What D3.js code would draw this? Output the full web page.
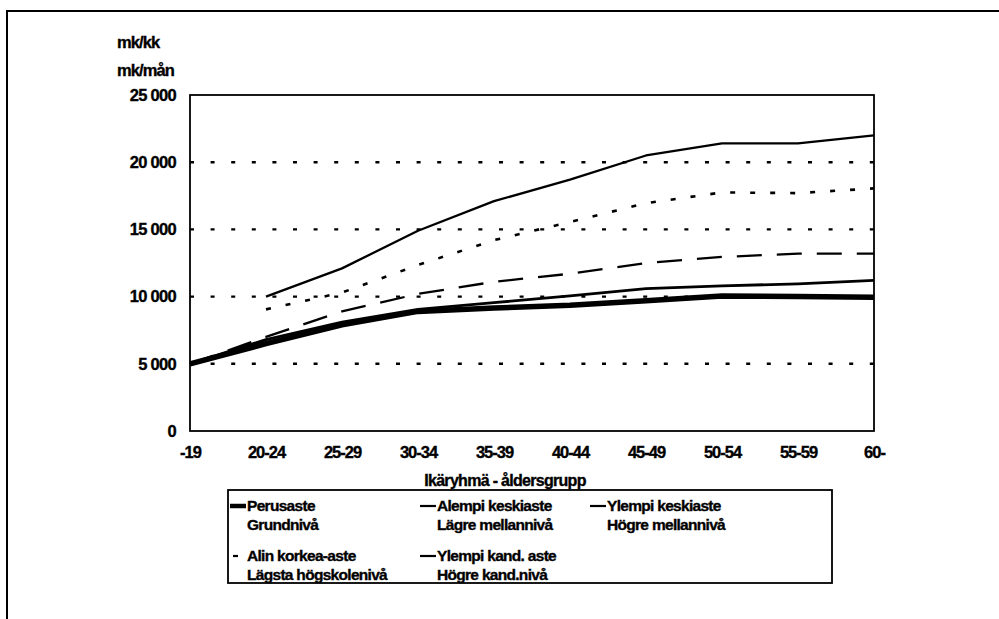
<!DOCTYPE html>
<html><head><meta charset="utf-8">
<script src="https://cdn.jsdelivr.net/npm/d3@7"></script>
<style>
body{margin:0;background:#fff;}
svg text{font-family:"Liberation Sans",Arial,sans-serif;font-weight:bold;fill:#000;stroke:#000;stroke-width:0.35px;}
</style></head>
<body><svg id="c" width="999" height="619"></svg>
<script>
const categories = ["-19","20-24","25-29","30-34","35-39","40-44","45-49","50-54","55-59","60-"];
const yTicks = [0,5000,10000,15000,20000,25000];
const perusaste   = [5000, 6500, 7900, 8900, 9150, 9350, 9700, 10050, 10000, 9950];
const alempiKesk  = [5000, 6800, 8100, 9050, 9550, 10050, 10600, 10800, 10950, 11200];
const ylempiKesk  = [5000, 7000, 8900, 10200, 11100, 11700, 12500, 12950, 13200, 13200];
const alinKorkea  = [null, 9050, 10300, 12350, 14200, 15550, 16950, 17750, 17700, 18050];
const ylempiKand  = [null, 10000, 12100, 14900, 17100, 18700, 20500, 21400, 21400, 22000];
const seriesNames = [
  ["Perusaste","Grundnivå"],
  ["Alempi keskiaste","Lägre mellannivå"],
  ["Ylempi keskiaste","Högre mellannivå"],
  ["Alin korkea-aste","Lägsta högskolenivå"],
  ["Ylempi kand. aste","Högre kand.nivå"]
];
const unitLabels = ["mk/kk","mk/mån"];
const xTitle = "Ikäryhmä - åldersgrupp";

const series = [
  {name:seriesNames[0], values:perusaste,  w:5.5, dash:null},
  {name:seriesNames[1], values:alempiKesk, w:2.8, dash:null},
  {name:seriesNames[2], values:ylempiKesk, w:2.3, dash:"25,15"},
  {name:seriesNames[3], values:alinKorkea, w:2.6, dash:"5,15"},
  {name:seriesNames[4], values:ylempiKand, w:2.3, dash:null}
];

const svg = d3.select("#c");
const L=190, R=874, T=95, B=431;
const x = d3.scalePoint().domain(categories).range([L,R]).padding(0);
const y = d3.scaleLinear().domain([0,25000]).range([B,T]);
const fmt = v => v===0 ? "0" : d3.format(",")(v).replace(/,/g," ");

// outer frame (top and left edges)
svg.append("path").attr("d",`M7,619V11H999`).attr("fill","none").attr("stroke","#000").attr("stroke-width",2);

// gridlines
svg.append("g").selectAll("line").data(yTicks.filter(d=>d>0 && d<25000)).join("line")
  .attr("x1",L).attr("x2",R).attr("y1",d=>y(d)).attr("y2",d=>y(d))
  .attr("stroke","#000").attr("stroke-width",2.4).attr("stroke-dasharray","4,16.6");

// plot frame
svg.append("rect").attr("x",L).attr("y",T).attr("width",R-L).attr("height",B-T)
  .attr("fill","none").attr("stroke","#000").attr("stroke-width",1.8);

// y axis labels
const yAxis = d3.axisLeft(y).tickValues(yTicks).tickFormat(fmt).tickSize(0).tickPadding(14);
const gy = svg.append("g").attr("transform",`translate(${L},0)`).call(yAxis);
gy.select(".domain").remove();
gy.selectAll("text").attr("font-size",16.5).attr("letter-spacing","-0.7").attr("font-family","Liberation Sans, Arial, sans-serif").attr("font-weight","bold");

// x axis labels
const xAxis = d3.axisBottom(x).tickSize(0).tickPadding(15);
const gx = svg.append("g").attr("transform",`translate(0,${B})`).call(xAxis);
gx.select(".domain").remove();
gx.selectAll("text").attr("font-size",16.5).attr("letter-spacing","-1").attr("font-family","Liberation Sans, Arial, sans-serif").attr("font-weight","bold");

// units
svg.selectAll("text.unit").data(unitLabels).join("text").attr("class","unit")
  .attr("x",117).attr("y",(d,i)=>48+i*28).attr("font-size",16.5).attr("letter-spacing","-0.9").text(d=>d);

// x title
svg.append("text").attr("x",505).attr("y",486).attr("text-anchor","middle")
  .attr("font-size",16).attr("letter-spacing","-0.7").text(xTitle);

// lines
const line = d3.line().defined(d=>d!=null).x((d,i)=>x(categories[i])).y(d=>y(d));
svg.append("g").selectAll("path").data(series.slice().reverse()).join("path")
  .attr("d",s=>line(s.values)).attr("fill","none").attr("stroke","#000")
  .attr("stroke-width",s=>s.w).attr("stroke-dasharray",s=>s.dash)
  .attr("stroke-linejoin","round");

// legend
const lg = svg.append("g");
lg.append("rect").attr("x",228).attr("y",490).attr("width",604).attr("height",93)
  .attr("fill","none").attr("stroke","#000").attr("stroke-width",1.8);
const colX=[230,420,590], rowY=[511,561];
series.forEach((s,i)=>{
  const cx=colX[i%3], cy=rowY[Math.floor(i/3)];
  lg.append("line").attr("x1",cx).attr("x2",cx+16).attr("y1",cy-5).attr("y2",cy-5)
    .attr("stroke","#000").attr("stroke-width",s.w===5.5?4.5:2.2).attr("stroke-dasharray",s.dash==="5,15"?"5,15":null)
    .attr("transform", s.dash==="5,15" ? "translate(3,0)" : null);
  lg.append("text").attr("x",cx+17).attr("y",cy).attr("font-size",15.5).attr("letter-spacing","-0.7").text(s.name[0]);
  lg.append("text").attr("x",cx+17).attr("y",cy+19).attr("font-size",15.5).attr("letter-spacing","-0.7").text(s.name[1]);
});
</script></body></html>
